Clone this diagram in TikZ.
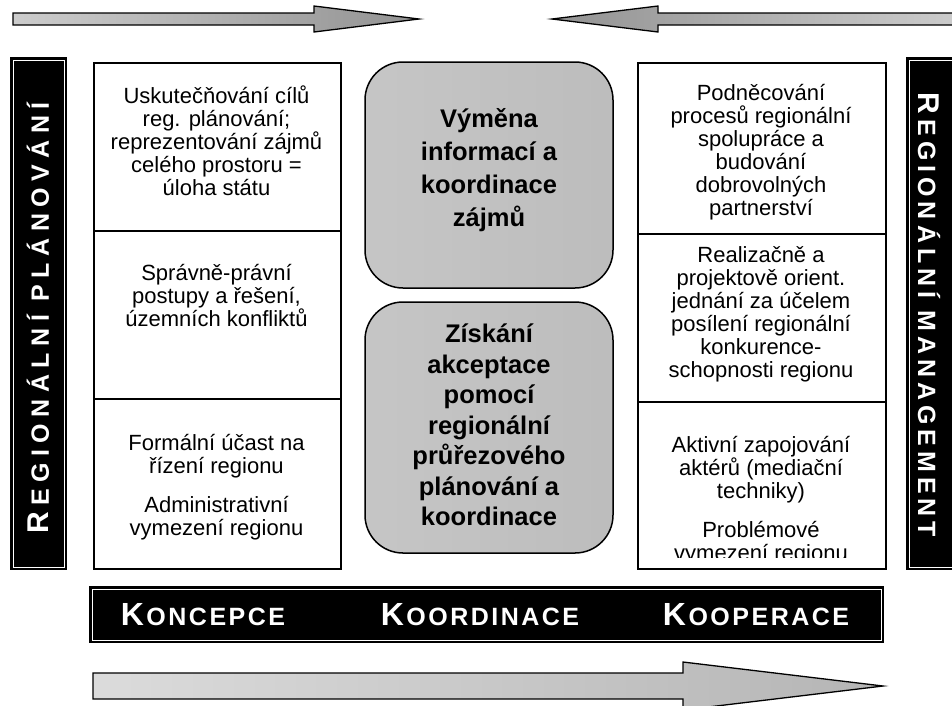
\documentclass[tikz,border=0pt]{standalone}
\usepackage{fontspec}
\setmainfont{Liberation Sans}
\newfontfamily\barfontL[LetterSpace=26]{Liberation Sans}
\newfontfamily\barfontR[LetterSpace=20]{Liberation Sans}
\newfontfamily\botfont[LetterSpace=10]{Liberation Sans}
\begin{document}
\begin{tikzpicture}[x=1pt,y=-1pt,
  cell/.style={draw=black, line width=1.5pt, fill=white, anchor=north west, inner sep=0pt, minimum width=247pt},
  celltext/.style={align=center, inner sep=0pt, font=\fontsize{22}{23}\selectfont},
  cbox/.style={draw=black, line width=1.5pt, rounded corners=38pt, left color=gray!45, middle color=gray!78, right color=gray!52, minimum width=248pt, inner sep=0pt},
  ctext/.style={align=center, inner sep=0pt, font=\bfseries\fontsize{25.5}{33}\selectfont},
  bar/.style={fill=black, draw=black, line width=1.2pt, inner sep=0pt},
  barline/.style={draw=white, line width=0.8pt},
  bartext/.style={text=white, inner sep=0pt},
  bottext/.style={text=white, inner sep=0pt, anchor=base, font=\botfont\bfseries},
  arrowshape/.style={draw=black, line width=1.3pt}
]
\clip (0,0) rectangle (952,705);
\fill[white] (0,0) rectangle (952,705);

% top arrows
\path[arrowshape, left color=gray!40, right color=gray!85]
  (13,13) -- (314,13) -- (314,6) -- (419,19) -- (314,32) -- (314,25) -- (13,25) -- cycle;
\path[arrowshape, left color=gray!85, right color=gray!40]
  (552,19) -- (658,6) -- (658,13) -- (960,13) -- (960,25) -- (658,25) -- (658,32) -- cycle;

% side bars
\node[bar, minimum width=55pt, minimum height=511pt] (lb) at (38.5,313.5) {};
\draw[barline] ([shift={(2.5,2.5)}]lb.north west) rectangle ([shift={(-2.5,-2.5)}]lb.south east);
\node[bartext, rotate=90, font=\barfontL\bfseries] (lbt) at (38,318) {{\fontsize{30}{30}\selectfont R}\kern6.5pt{\fontsize{25}{25}\selectfont EGIONÁLNÍ PLÁNOVÁNÍ}};

\node[bar, minimum width=56pt, minimum height=511pt] (rb) at (935,313.5) {};
\draw[barline] ([shift={(2.5,2.5)}]rb.north west) rectangle ([shift={(-2.5,-2.5)}]rb.south east);
\node[bartext, rotate=-90, font=\barfontR\bfseries] (rbt) at (929,315) {{\fontsize{30}{30}\selectfont R}\kern5pt{\fontsize{25}{25}\selectfont EGIONÁLNÍ MANAGEMENT}};

% left column
\node[cell, minimum height=168pt] (l1) at (93,62) {};
\node[cell, minimum height=168pt] (l2) at (93,230) {};
\node[cell, minimum height=170pt] (l3) at (93,398) {};
\node[celltext] (lt1) at (216.5,141) {Uskutečňování cílů\\reg. plánování;\\reprezentování zájmů\\celého prostoru =\\úloha státu};
\node[celltext] (lt2) at (216.5,295) {Správně-právní\\postupy a řešení,\\územních konfliktů};
\node[celltext] (lt3) at (216.5,487) {Formální účast na\\řízení regionu\\[16pt]Administrativní\\vymezení regionu};

% right column
\node[cell, minimum width=248pt, minimum height=171pt] (r1) at (637,62) {};
\node[cell, minimum width=248pt, minimum height=168pt] (r2) at (637,233) {};
\node[cell, minimum width=248pt, minimum height=167pt] (r3) at (637,401) {};
\node[celltext] (rt1) at (761,152) {Podněcování\\procesů regionální\\spolupráce a\\budování\\dobrovolných\\partnerství};
\node[celltext] (rt2) at (761,314) {Realizačně a\\projektově orient.\\jednání za účelem\\posílení regionální\\konkurence-\\schopnosti regionu};
\begin{scope}
  \clip (637,401) rectangle (885,557);
  \node[celltext] (rt3) at (761,501) {Aktivní zapojování\\aktérů (mediační\\techniky)\\[16pt]Problémové\\vymezení regionu};
\end{scope}

% centre boxes
\node[cbox, minimum height=226pt] (c1) at (489,175) {};
\node[ctext] (ct1) at (489,170) {Výměna\\informací a\\koordinace\\zájmů};
\node[cbox, minimum height=251pt] (c2) at (489,427.5) {};
\node[ctext, font=\bfseries\fontsize{25.5}{30.5}\selectfont] (ct2) at (489,425) {Získání\\akceptace\\pomocí\\regionální\\průřezového\\plánování a\\koordinace};

% bottom bar
\node[bar, minimum width=793pt, minimum height=55pt] (bb) at (486.5,614.5) {};
\draw[barline] ([shift={(2.5,2.5)}]bb.north west) rectangle ([shift={(-2.5,-2.5)}]bb.south east);
\node[bottext] (k1) at (203,625) {{\fontsize{32}{32}\selectfont K}\kern2.5pt{\fontsize{25}{25}\selectfont ONCEPCE}};
\node[bottext] (k2) at (480,625) {{\fontsize{32}{32}\selectfont K}\kern2.5pt{\fontsize{25}{25}\selectfont OORDINACE}};
\node[bottext] (k3) at (756,625) {{\fontsize{32}{32}\selectfont K}\kern2.5pt{\fontsize{25}{25}\selectfont OOPERACE}};

% bottom arrow
\path[arrowshape, left color=gray!28, right color=gray!58]
  (93,673) -- (683,673) -- (683,662) -- (883,686) -- (683,710) -- (683,699) -- (93,699) -- cycle;
\end{tikzpicture}
\end{document}
